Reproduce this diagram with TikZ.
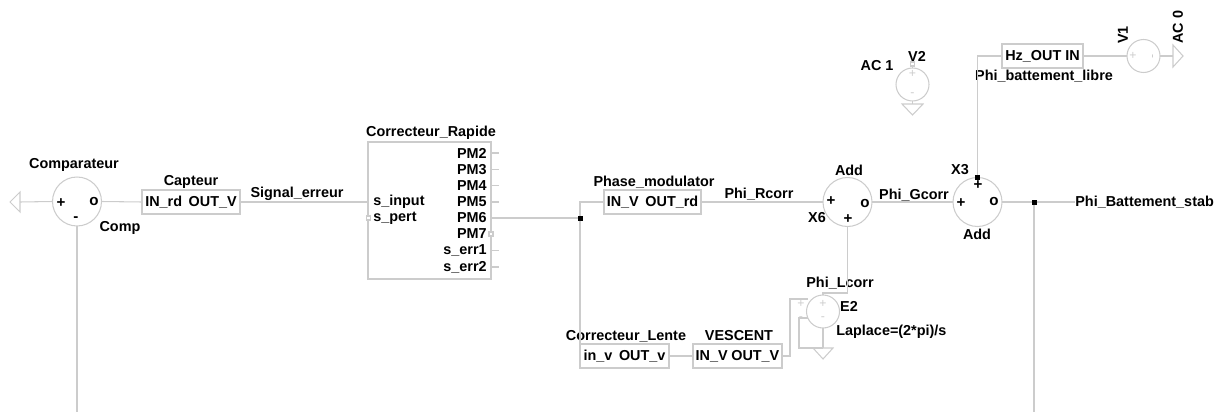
\documentclass[tikz,border=0pt]{standalone}
\usepackage{fontspec}
\setmainfont{Liberation Sans}
\usetikzlibrary{positioning}
\definecolor{wire}{HTML}{CCCCCC}
\tikzset{
  lbl/.style={font=\fontsize{8.2}{9}\selectfont\bfseries, inner sep=0pt},
  sign/.style={font=\fontsize{8.6}{9}\selectfont\bfseries, inner sep=0pt},
  faint/.style={font=\fontsize{7}{8}\selectfont, inner sep=0pt, text=wire},
  wireline/.style={draw=wire, line width=0.6pt},
  sumblock/.style={wireline, circle, minimum size=0.98cm, inner sep=0pt, outer sep=0pt},
  srcblock/.style={wireline, circle, minimum size=0.66cm, inner sep=0pt, outer sep=0pt},
  subblock/.style={wireline, lbl, minimum height=0.48cm, inner sep=0pt, outer sep=0pt},
  gnd/.style={wireline, line join=miter},
  dotnode/.style={fill=black, minimum size=0.1cm, inner sep=0pt, outer sep=0pt},
  pin/.style={wireline, fill=white, minimum size=0.08cm, inner sep=0pt, outer sep=0pt},
}
\begin{document}
\begin{tikzpicture}[x=0.02cm, y=-0.02cm]
  \useasboundingbox (0,0) rectangle (1223,412);

  % comparator side
  \node[sumblock] (comp) at (77,201.5) {};
  \node[sign] (compP) at (61,203) {+};
  \node[sign] (compO) at (94,202) {o};
  \node[sign] (compM) at (76,219) {-};
  \node[lbl] (compName) at (74,165) {Comparateur};
  \node[lbl] (compRef) at (120,228) {Comp};
  \coordinate (gndA) at (20,202);
  \coordinate (compEnd) at (77,412);
  \draw[gnd] (20,192) -- (20,212) -- (10,202) -- cycle;
  \draw[wireline] (gndA) -- (comp.west);
  \draw[wireline] (comp.south) -- (compEnd);

  \node[subblock, minimum width=1.96cm] (capteur) at (191,202) {IN\_rd\hspace{0.46em}OUT\_V};
  \node[lbl] (capteurName) at (191,182) {Capteur};
  \draw[wireline] (comp.east) -- (capteur.west);
  \node[lbl] (sigErr) at (297,194) {Signal\_erreur};

  % fast corrector with its ports
  \node[wireline, minimum width=2.46cm, minimum height=2.74cm, inner sep=0pt, outer sep=0pt] (rapide) at (429.5,210.5) {};
  \node[lbl] (rapideName) at (431,133) {Correcteur\_Rapide};
  \coordinate (rapideIn) at (368,202);
  \draw[wireline] (capteur.east) -- (rapideIn);
  \node[lbl, anchor=west] (sInput) at (373,202) {s\_input};
  \node[lbl, anchor=west] (sPert) at (373,218) {s\_pert};
  \node[pin] (pinPert) at (368.5,218) {};
  \foreach \pname/\py/\ptxt in {a/153/PM2, b/169.5/PM3, c/185.5/PM4, d/202/PM5, f/234/PM7, g/250.5/s\_err1, h/267/s\_err2}
    \node[lbl, anchor=east] (port\pname) at (487,\py) {\ptxt};
  \node[lbl, anchor=east] (portPM) at (487,218) {PM6};
  \foreach \py in {153,169.5,185.5,202,250.5,267}
    \draw[wireline] (491,\py) -- (499,\py);
  \node[pin] (pinPM) at (491,234) {};

  % branch towards the two correctors
  \node[dotnode] (split) at (580,218) {};
  \coordinate (rapideOut) at (491,218);
  \draw[wireline] (rapideOut) -- (split);

  \node[subblock, minimum width=1.94cm] (phase) at (652.5,202) {IN\_V\hspace{0.46em}OUT\_rd};
  \node[lbl] (phaseName) at (654,182) {Phase\_modulator};
  \draw[wireline] (split.north) |- (phase.west);

  \node[subblock, minimum width=1.78cm] (lente) at (624.5,356) {in\_v\hspace{0.46em}OUT\_v};
  \node[lbl] (lenteName) at (626,336) {Correcteur\_Lente};
  \draw[wireline] (split.south) -- (580,344);

  \node[subblock, minimum width=1.78cm] (vescent) at (737.5,356) {IN\_V\hspace{0.25em}OUT\_V};
  \node[lbl] (vescentName) at (739,336) {VESCENT};
  \draw[wireline] (lente.east) -- (vescent.west);

  % first adder
  \node[sumblock] (addA) at (847.5,202) {};
  \node[sign] (addAp) at (831,201) {+};
  \node[sign] (addAo) at (865,204) {o};
  \node[sign] (addAq) at (848,219) {+};
  \node[lbl] (addAName) at (849,170) {Add};
  \node[lbl] (addARef) at (817,218) {X6};
  \draw[wireline] (phase.east) -- (addA.west);
  \node[lbl] (phiR) at (759,194) {Phi\_Rcorr};

  % laplace source
  \node[srcblock] (eTwo) at (823,311.5) {};
  \node[faint] (eTwoP) at (823,304) {+};
  \node[faint] (eTwoM) at (823,319) {-};
  \node[faint] (eTwoQ) at (801,304) {+};
  \node[faint] (eTwoN) at (801,319) {-};
  \node[lbl] (phiL) at (840,283) {Phi\_Lcorr};
  \node[lbl] (eTwoName) at (849,306) {E2};
  \node[lbl, anchor=west] (eTwoVal) at (836,332) {Laplace=(2*pi)/s};
  \draw[wireline] (addA.south) |- (823,293) -- (eTwo.north);
  \draw[wireline] (vescent.east) -- (790,356) -- (790,299) -- (808,299);
  \draw[wireline] (808,318) -- (799,318) -- (799,348) -- (823,348);
  \draw[wireline] (eTwo.south) -- (823,348);
  \draw[gnd] (813,348) -- (833,348) -- (823,359) -- cycle;

  % second adder
  \node[sumblock] (addB) at (977.5,202) {};
  \node[sign] (addBp) at (961,203) {+};
  \node[sign] (addBo) at (994,202) {o};
  \node[sign] (addBq) at (978,185) {+};
  \node[dotnode] (addBtop) at (977.5,177.5) {};
  \node[lbl] (addBRef) at (960,170) {X3};
  \node[lbl] (addBName) at (977,234) {Add};
  \draw[wireline] (addA.east) -- (addB.west);
  \node[lbl] (phiG) at (914,195) {Phi\_Gcorr};

  \node[dotnode] (tap) at (1034,202) {};
  \coordinate (tapEnd) at (1034,412);
  \node[lbl, anchor=west] (phiStab) at (1075,202) {Phi\_Battement\_stab};
  \draw[wireline] (addB.east) -- (tap);
  \draw[wireline] (tap) -- (phiStab.west);
  \draw[wireline] (tap) -- (tapEnd);

  % free beat branch
  \node[subblock, minimum width=1.62cm] (hz) at (1042.5,56) {Hz\_OUT IN};
  \node[lbl] (phiLibre) at (1044,76) {Phi\_battement\_libre};
  \draw[wireline] (addBtop.north) |- (hz.west);

  \node[srcblock] (vOne) at (1143.5,56) {};
  \node[faint] (vOneP) at (1133,56) {+};
  \node[faint, rotate=90] (vOneM) at (1154,56) {-};
  \node[lbl, rotate=90] (vOneName) at (1123,35) {V1};
  \node[lbl, rotate=90] (vOneVal) at (1178,27) {AC 0};
  \draw[wireline] (hz.east) -- (vOne.west);
  \coordinate (gndB) at (1173,56);
  \draw[wireline] (vOne.east) -- (gndB);
  \draw[gnd] (1173,45) -- (1173,67) -- (1183,56) -- cycle;

  % lone source
  \node[srcblock] (vTwo) at (912.5,84.5) {};
  \node[faint] (vTwoP) at (912.5,74) {+};
  \node[faint] (vTwoM) at (912.5,95) {-};
  \node[pin] (vTwoPin) at (912.5,64) {};
  \node[lbl] (vTwoName) at (917,56) {V2};
  \node[lbl] (vTwoVal) at (877,66) {AC 1};
  \coordinate (gndC) at (912.5,104);
  \draw[wireline] (vTwoPin) -- (vTwo.north);
  \draw[wireline] (vTwo.south) -- (gndC);
  \draw[gnd] (902,104) -- (923,104) -- (912.5,115) -- cycle;
\end{tikzpicture}
\end{document}
